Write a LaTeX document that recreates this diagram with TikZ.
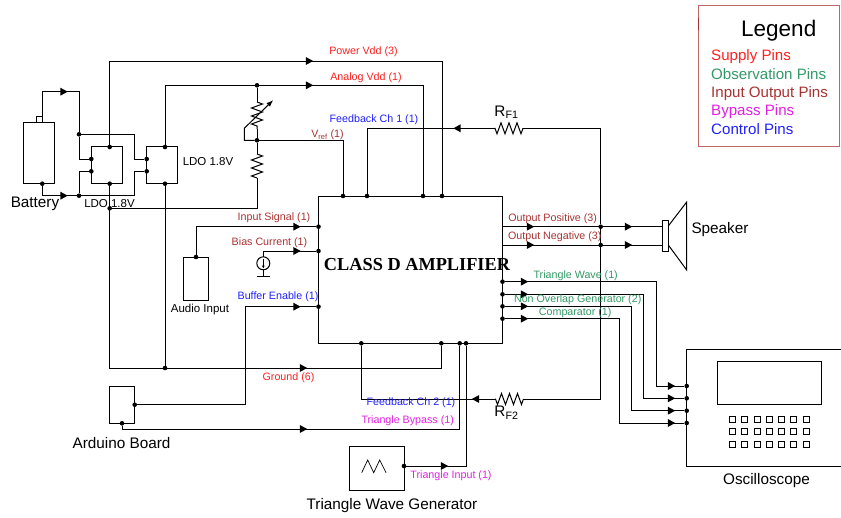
\documentclass[tikz,border=0pt]{standalone}
\usepackage{fontspec}
\setmainfont{Liberation Sans}
\newfontfamily\ampfont{Liberation Serif}
\usetikzlibrary{arrows.meta,decorations.pathmorphing}
\definecolor{supply}{HTML}{FF2020}
\definecolor{observ}{HTML}{339966}
\definecolor{inout}{HTML}{A83232}
\definecolor{bypass}{HTML}{E020E0}
\definecolor{control}{HTML}{2020FF}

\begin{document}
\begin{tikzpicture}[x=1pt,y=-1pt,line width=1pt,
    box/.style={draw,inner sep=0,outer sep=0},
    dot/.style={circle,fill,inner sep=0,outer sep=0,minimum size=4.6},
    res/.style={decorate,decoration={zigzag,amplitude=5.5,segment length=8}},
    lab/.style={anchor=base,inner sep=0,font=\fontsize{10.7}{12}\selectfont},
    mid/.style={anchor=base,inner sep=0,font=\fontsize{11.5}{13}\selectfont},
    big/.style={anchor=base,inner sep=0,font=\fontsize{15.3}{17}\selectfont}]
    \useasboundingbox (0,0) rectangle (841,517);

    \node[box,minimum width=184,minimum height=147.3] (amp) at (410.5,269.7) {};
    \node[box,minimum width=31,minimum height=61.7] (bat) at (39.3,153) {};
    \node[box,minimum width=6.3,minimum height=6] (cap) at (39.2,119.3) {};
    \node[box,minimum width=31,minimum height=36.7] (ldoa) at (106.8,165.3) {};
    \node[box,minimum width=30.6,minimum height=36.7] (ldob) at (162,165.3) {};
    \node[box,minimum width=25,minimum height=43] (aud) at (195.5,278.5) {};
    \node[box,minimum width=25.2,minimum height=37.3] (ard) at (122.1,404.7) {};
    \node[box,minimum width=55,minimum height=43.7] (twg) at (376.5,468.8) {};
    \node[box,minimum width=6,minimum height=31] (spk) at (665.3,235.8) {};
    \node[box,minimum width=104.4,minimum height=42.6] (scr) at (769.5,383) {};
    \node[draw,circle,inner sep=0,outer sep=0,minimum size=13] (src) at (263.3,263.3) {};

    \node[dot] (ldoaT) at (109.7,147) {};
    \node[dot] (ldoaB) at (109.7,183.7) {};
    \node[dot] (ldoaL) at (91.3,159) {};
    \node[dot] (ldoaM) at (91.3,171.3) {};
    \node[dot] (ldobT) at (165,147) {};
    \node[dot] (ldobB) at (165,183.7) {};
    \node[dot] (ldobL) at (146.7,159) {};
    \node[dot] (ldobM) at (146.7,171.3) {};
    \node[dot] (batB) at (42.3,183.7) {};
    \node[dot] (junA) at (79,134.3) {};
    \node[dot] (junB) at (79,195.7) {};
    \node[dot] (potT) at (257,85.3) {};
    \node[dot] (potJ) at (257,140.3) {};
    \node[dot] (gndL) at (109.7,208.3) {};
    \node[dot] (gndB) at (165,368) {};
    \node[dot] (ampV) at (343,196) {};
    \node[dot] (ampF) at (367,196) {};
    \node[dot] (ampA) at (423,196) {};
    \node[dot] (ampP) at (442,196) {};
    \node[dot] (ampI) at (318.5,226.7) {};
    \node[dot] (ampC) at (318.5,251) {};
    \node[dot] (ampE) at (318.5,306.7) {};
    \node[dot] (ampH) at (361.3,343.3) {};
    \node[dot] (ampG) at (441.3,343.3) {};
    \node[dot] (ampY) at (459.7,343.3) {};
    \node[dot] (ampT) at (466,343.3) {};
    \node[dot] (audT) at (196,257) {};
    \node[dot] (ardE) at (134.7,404.7) {};
    \node[dot] (ardB) at (122,423.3) {};
    \node[dot] (twgE) at (404,466) {};
    \node[dot] (outP) at (600.7,226.7) {};
    \node[dot] (outN) at (600.7,245) {};

    \coordinate (potA) at (257,102);
    \coordinate (potB) at (257,129);
    \coordinate (potK) at (244.3,128.3);
    \coordinate (resA) at (257,154);
    \coordinate (resB) at (257,178);
    \coordinate (rfaL) at (494,128.3);
    \coordinate (rfaR) at (523,128.3);
    \coordinate (rfbL) at (495,399);
    \coordinate (rfbR) at (523.5,399);

    \draw (cap.north east) -- ++(0,-24.6) -| (junA);
    \draw (junA) |- (ldoaL);
    \draw (junA) -- ++(55.7,0) |- (ldobL);
    \draw (batB) |- (junB);
    \draw (junB) |- (ldoaM);
    \draw (junB) -- ++(55.7,0) |- (ldobM);
    \draw (ldoaT) -- ++(0,-86) -| (ampP);
    \draw (ldobT) |- (potT) -| (ampA);
    \draw (potT) -- (potA);
    \draw[res] (potA) -- (potB);
    \draw (potB) -- (potJ) -- (resA);
    \draw[res] (resA) -- (resB);
    \draw (resB) |- (gndL);
    \draw[-{Latex[length=7,width=5]}] (potJ) -| (potK) -- (273.3,100);
    \draw (potJ) -| (ampV);
    \draw (ldoaB) -- ++(0,184.3) -| (ampG);
    \draw (ldobB) -- (gndB);
    \draw (audT) |- (ampI);
    \draw (src.north) |- (ampC);
    \draw (src.south) -- (263.3,276) coordinate (srcG);
    \draw ([xshift=-6.6]srcG) -- ([xshift=6.6]srcG);
    \draw[line width=0.5pt,-{Latex[length=3,width=3]}] (263.3,258.5) -- (263.3,268.5);
    \draw (ardE) -- ++(110.3,0) |- (ampE);
    \draw (ardB) -- ++(0,5.7) -| (ampY);
    \draw (twgE) -| (ampT);
    \draw (ampF) |- (rfaL);
    \draw[res] (rfaR) -- (rfaL);
    \draw (rfaR) -| (outP) -- (outN) |- (rfbR);
    \draw[res] (rfbR) -- (rfbL);
    \draw (rfbL) -| (ampH);
    \draw (amp.east |- outP) -- (spk.west |- outP);
    \draw (amp.east |- outN) -- (spk.west |- outN);
    \draw (668.3,226) -- (686.7,202) -- (686.7,270) -- (668.3,245);

    \draw (841,349.3) -- (686.7,349.3) -- (686.7,466) -- (841,466);
    \foreach \i/\ya/\xb/\yb in {1/281.7/656/386,2/294.3/643.7/398.3,3/306.3/631.5/410.7,4/318.7/619/423} {
        \node[dot] (pin\i) at (502.5,\ya) {};
        \node[dot] (osc\i) at (686.7,\yb) {};
        \coordinate (bend\i) at (\xb,\ya);
        \draw (pin\i) -- (bend\i) |- (osc\i);
        \fill[shift={(524.5,\ya)}] (-3.7,-4) -- (3.7,0) -- (-3.7,4) -- cycle;
        \fill[shift={(671.5,\yb)}] (-3.7,-4) -- (3.7,0) -- (-3.7,4) -- cycle;
    }
    \foreach \x/\y in {64/91.7,64/195.7,309.5/61,309.5/85.3,297/226.7,297/251,297/306.7,303.5/368,
        303.5/429,444.5/466,530.5/226.7,530.5/245,628.5/226.7,628.5/245}
        \fill[shift={(\x,\y)}] (-3.7,-4) -- (3.7,0) -- (-3.7,4) -- cycle;
    \foreach \x/\y in {457/128.3,475.5/399}
        \fill[shift={(\x,\y)}] (3.7,-4) -- (-3.7,0) -- (3.7,4) -- cycle;

    \foreach \y in {419.3,431.7,444}
        \foreach \x in {732.3,744.6,756.9,769.2,781.5,793.8,806.1}
            \draw[line width=0.8pt] (\x-3,\y-3) rectangle ++(6,6);
    \draw[line width=0.7pt] (361.7,472.7) -- (367.7,460) -- (373.7,472.7) -- (379.7,460) -- (386,472.7);

    \node[big] (batL) at (35,207.7) {Battery};
    \node[mid] (ldoaN) at (109.5,207.7) {LDO 1.8V};
    \node[mid] (ldobN) at (208,165.3) {LDO 1.8V};
    \node[mid] (audN) at (200,312.7) {Audio Input};
    \node[big] (ardN) at (121.5,448) {Arduino Board};
    \node[big] (twgN) at (392,509) {Triangle Wave Generator};
    \node[big] (spkN) at (720,233) {Speaker};
    \node[big] (oscN) at (766.5,484.3) {Oscilloscope};
    \node[big] (rfaN) at (506.5,116) {R\textsubscript{F1}};
    \node[big] (rfbN) at (506.5,416.7) {R\textsubscript{F2}};
    \node[anchor=base,inner sep=0,font=\ampfont\bfseries\fontsize{18.3}{20}\selectfont] (ampN) at (417,270) {CLASS D AMPLIFIER};

    \node[lab,text=supply] (pwrL) at (363.5,54.7) {Power Vdd (3)};
    \node[lab,text=supply] (anaL) at (366,80) {Analog Vdd (1)};
    \node[lab,text=control] (fbaL) at (374,122.7) {Feedback Ch 1 (1)};
    \node[lab,text=inout] (vrefL) at (327.5,137.7) {V\textsubscript{ref} (1)};
    \node[lab,text=inout] (inpL) at (274,220.7) {Input Signal (1)};
    \node[lab,text=inout] (biaL) at (269.5,245) {Bias Current (1)};
    \node[lab,text=control] (bufL) at (278,299.7) {Buffer Enable (1)};
    \node[lab,text=supply] (gndN) at (288.5,380) {Ground (6)};
    \node[lab,text=control] (fbbL) at (411,405) {Feedback Ch 2 (1)};
    \node[lab,text=bypass] (tbyL) at (407.7,423) {Triangle Bypass (1)};
    \node[lab,text=bypass] (tinL) at (451,478) {Triangle Input (1)};
    \node[lab,text=inout] (opL) at (552.7,221) {Output Positive (3)};
    \node[lab,text=inout] (onL) at (554.8,239) {Output Negative (3)};
    \node[lab,text=observ] (twL) at (575.7,278) {Triangle Wave (1)};
    \node[lab,text=observ] (novL) at (577.7,302) {Non Overlap Generator (2)};
    \node[lab,text=observ] (cmpL) at (575.2,315) {Comparator (1)};

    \node[draw=inout!75,line width=0.8pt,inner sep=0,outer sep=0,minimum width=141,minimum height=141] (leg) at (769.3,76.2) {};
    \draw[inout,line width=1.2pt] (698.8,18) -- (698.8,30);
    \node[anchor=base west,inner sep=0,font=\fontsize{22.5}{25}\selectfont] (legT) at (740.7,36.7) {Legend};
    \node[anchor=base west,inner sep=0,font=\fontsize{15.1}{17}\selectfont,text=supply] (legA) at (710.7,60.7) {Supply Pins};
    \node[anchor=base west,inner sep=0,font=\fontsize{15.1}{17}\selectfont,text=observ] (legB) at (710.7,79) {Observation Pins};
    \node[anchor=base west,inner sep=0,font=\fontsize{15.1}{17}\selectfont,text=inout] (legC) at (710.7,97.7) {Input Output Pins};
    \node[anchor=base west,inner sep=0,font=\fontsize{15.1}{17}\selectfont,text=bypass] (legD) at (710.7,115.7) {Bypass Pins};
    \node[anchor=base west,inner sep=0,font=\fontsize{15.1}{17}\selectfont,text=control] (legE) at (710.7,134) {Control Pins};
\end{tikzpicture}
\end{document}
